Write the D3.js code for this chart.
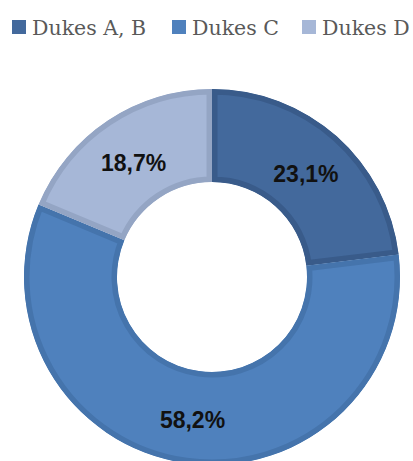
<!DOCTYPE html>
<html>
<head>
<meta charset="utf-8">
<script src="https://cdn.jsdelivr.net/npm/d3@7"></script>
<style>
  html, body { margin: 0; padding: 0; background: #fff; }
  svg { display: block; }
</style>
</head>
<body>
<svg id="chart"></svg>
<script>
let width = 413;
let height = 461;

// data
let categories = ['Dukes A, B', 'Dukes C', 'Dukes D'];
let values = [23.1, 58.2, 18.7];
let labels = ['23,1%', '58,2%', '18,7%'];

let fills = ['#43699c', '#4f81bd', '#a6b7d7'];
let edges = ['#395b8a', '#4574ac', '#94a5c4'];

let cx = 212, cy = 277;
let outerR = 188, innerR = 95;

const svg = d3.select('#chart')
  .attr('width', width)
  .attr('height', height);

let pie = d3.pie().sort(null).value(d => d);
let arcs = pie(values);

let arc = d3.arc().innerRadius(innerR).outerRadius(outerR);

let g = svg.append('g').attr('transform', `translate(${cx},${cy})`);

// clip each slice to itself so the darker edge sits inside it
let defs = svg.append('defs');
arcs.forEach(function (d, i) {
  defs.append('clipPath').attr('id', 'clip' + i)
    .append('path').attr('d', arc(d));
});

g.selectAll('path.slice')
  .data(arcs)
  .enter()
  .append('path')
  .attr('class', 'slice')
  .attr('d', arc)
  .attr('clip-path', (d, i) => `url(#clip${i})`)
  .attr('fill', (d, i) => fills[i])
  .attr('stroke', (d, i) => edges[i])
  .attr('stroke-width', 11)
  .attr('stroke-linejoin', 'miter');

let labelArc = d3.arc().innerRadius(innerR).outerRadius(outerR);
g.selectAll('text.lbl')
  .data(arcs)
  .enter()
  .append('text')
  .attr('class', 'lbl')
  .attr('transform', d => {
    let c = labelArc.centroid(d);
    return `translate(${c[0]},${c[1] + 3})`;
  })
  .attr('text-anchor', 'middle')
  .attr('dy', '0.36em')
  .attr('font-family', '"Liberation Sans", Arial, sans-serif')
  .attr('font-weight', 'bold')
  .attr('font-size', 23)
  .attr('fill', '#111')
  .text((d, i) => labels[i]);

// legend
let legendX = [12, 172, 302];
let legend = svg.append('g').attr('class', 'legend');
categories.forEach(function (c, i) {
  legend.append('rect')
    .attr('x', legendX[i])
    .attr('y', 20)
    .attr('width', 14)
    .attr('height', 14)
    .attr('fill', fills[i]);
  legend.append('text')
    .attr('x', legendX[i] + 20)
    .attr('y', 35)
    .attr('font-family', '"DejaVu Serif", serif')
    .attr('font-size', 20.5)
    .attr('fill', '#595959')
    .text(c);
});
</script>
</body>
</html>
